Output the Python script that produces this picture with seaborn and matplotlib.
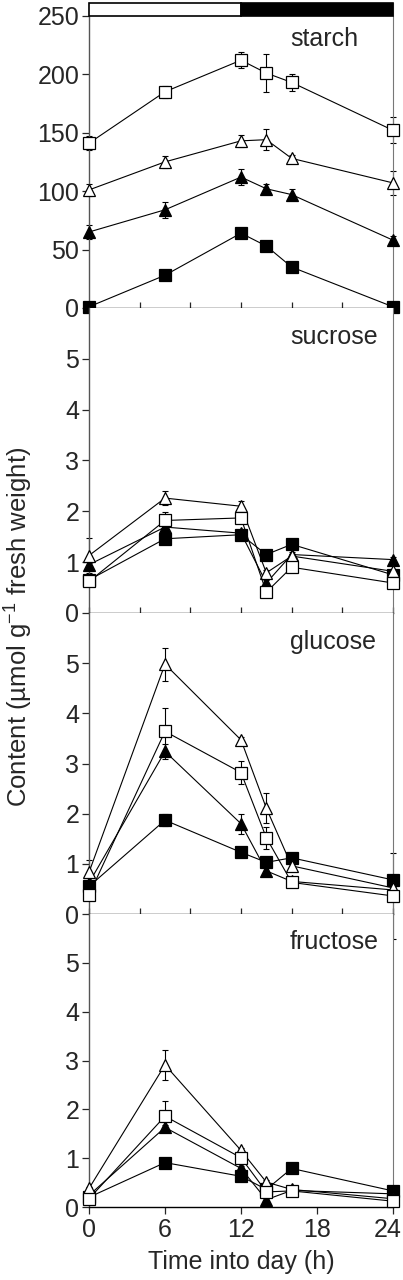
import numpy as np
import pandas as pd
import seaborn as sns
import matplotlib.pyplot as plt
import matplotlib.transforms as mtransforms

# time points (h) sampled through the day
time = [0, 6, 12, 14, 16, 24]

# starch
starch_sq_open = [141, 185, 212, 201, 193, 152]
starch_sq_open_err = [6, 5, 7, 16, 7, 11]
starch_tri_open = [101, 125, 143, 144, 128, 107]
starch_tri_open_err = [5, 5, 5, 9, 3, 10]
starch_tri_filled = [65, 84, 112, 102, 97, 58]
starch_tri_filled_err = [6, 7, 7, 4, 5, 4]
starch_sq_filled = [1, 28, 64, 53, 35, 1]
starch_sq_filled_err = [0, 0, 0, 0, 0, 0]

# sucrose
sucrose_sq_open = [0.62, 1.82, 1.87, 0.41, 0.90, 0.59]
sucrose_sq_open_err = [0.05, 0.17, 0.10, 0.05, 0.05, 0.05]
sucrose_tri_open = [1.13, 2.26, 2.10, 0.79, 1.12, 0.82]
sucrose_tri_open_err = [0.35, 0.13, 0.10, 0.05, 0.05, 0.05]
sucrose_tri_filled = [0.95, 1.69, 1.57, 0.59, 1.15, 1.05]
sucrose_tri_filled_err = [0.05, 0.05, 0.05, 0.05, 0.05, 0.05]
sucrose_sq_filled = [0.65, 1.46, 1.54, 1.15, 1.35, 0.75]
sucrose_sq_filled_err = [0.05, 0.05, 0.05, 0.05, 0.05, 0.05]

# glucose
glucose_sq_open = [0.38, 3.64, 2.82, 1.52, 0.63, 0.36]
glucose_sq_open_err = [0.05, 0.47, 0.22, 0.22, 0.05, 0.85]
glucose_tri_open = [0.83, 4.98, 3.47, 2.11, 0.96, 0.52]
glucose_tri_open_err = [0.25, 0.33, 0.05, 0.30, 0.05, 0.05]
glucose_tri_filled = [0.62, 3.24, 1.80, 0.86, 0.65, 0.48]
glucose_tri_filled_err = [0.05, 0.15, 0.20, 0.05, 0.05, 0.05]
glucose_sq_filled = [0.55, 1.87, 1.23, 1.03, 1.12, 0.68]
glucose_sq_filled_err = [0.05, 0.12, 0.05, 0.05, 0.05, 0.05]

# fructose
fructose_sq_open = [0.17, 1.86, 1.01, 0.31, 0.33, 0.12]
fructose_sq_open_err = [0.03, 0.32, 0.05, 0.05, 0.05, 0.05]
fructose_tri_open = [0.38, 2.91, 1.16, 0.51, 0.36, 0.17]
fructose_tri_open_err = [0.03, 0.30, 0.05, 0.05, 0.05, 0.03]
fructose_tri_filled = [0.24, 1.63, 0.79, 0.15, 0.34, 0.27]
fructose_tri_filled_err = [0.03, 0.05, 0.05, 0.03, 0.03, 0.03]
fructose_sq_filled = [0.20, 0.91, 0.63, 0.36, 0.79, 0.33]
fructose_sq_filled_err = [0.03, 0.05, 0.05, 0.05, 0.05, 0.03]

panel_names = ['starch', 'sucrose', 'glucose', 'fructose']
starch_ticks = [0, 50, 100, 150, 200, 250]
sugar_ticks = [0, 1, 2, 3, 4, 5]
x_ticks = [0, 6, 12, 18, 24]
x_minor_ticks = [0, 4, 8, 12, 16, 20, 24]

# light / dark bar on top of the starch panel
period_start = [0, 12]
period_length = [12, 12]
period_colors = ['white', 'black']

panels = {
    'starch': [(starch_sq_filled, starch_sq_filled_err),
               (starch_tri_filled, starch_tri_filled_err),
               (starch_tri_open, starch_tri_open_err),
               (starch_sq_open, starch_sq_open_err)],
    'sucrose': [(sucrose_sq_filled, sucrose_sq_filled_err),
                (sucrose_tri_filled, sucrose_tri_filled_err),
                (sucrose_tri_open, sucrose_tri_open_err),
                (sucrose_sq_open, sucrose_sq_open_err)],
    'glucose': [(glucose_sq_filled, glucose_sq_filled_err),
                (glucose_tri_filled, glucose_tri_filled_err),
                (glucose_tri_open, glucose_tri_open_err),
                (glucose_sq_open, glucose_sq_open_err)],
    'fructose': [(fructose_sq_filled, fructose_sq_filled_err),
                 (fructose_tri_filled, fructose_tri_filled_err),
                 (fructose_tri_open, fructose_tri_open_err),
                 (fructose_sq_open, fructose_sq_open_err)],
}
# drawing order: filled square, filled triangle, open triangle, open square
styles = [('s', 'black', 8.2), ('^', 'black', 9.3),
          ('^', 'white', 9.3), ('s', 'white', 8.2)]

sns.set_style('ticks')
plt.rcParams['font.family'] = ['Liberation Sans', 'DejaVu Sans']
plt.rcParams['mathtext.fontset'] = 'custom'
plt.rcParams['mathtext.rm'] = 'Liberation Sans'

fig, axes = plt.subplots(4, 1, figsize=(4.03, 12.8), dpi=100,
                         gridspec_kw={'height_ratios': [305, 305, 301, 293],
                                      'hspace': 0})
fig.subplots_adjust(left=0.2208, right=0.9752, top=0.9977, bottom=0.0570)

for ax, name in zip(axes, panel_names):
    for (vals, errs), (marker, face, size) in zip(panels[name], styles):
        ax.errorbar(time, vals, yerr=errs, fmt='none', ecolor='black',
                    elinewidth=0.8, capsize=2.5, capthick=0.8,
                    zorder=2, clip_on=False)
        sns.lineplot(x=time, y=vals, ax=ax, color='black', linewidth=0.8,
                     marker=marker, markersize=size, markerfacecolor=face,
                     markeredgecolor='black', markeredgewidth=0.9,
                     clip_on=False, zorder=3)

    ax.set_xlim(0, 24)
    ax.set_xlabel('')
    ax.set_ylabel('')
    ax.spines['top'].set_visible(False)
    ax.spines['left'].set_color('#555555')
    ax.spines['left'].set_linewidth(1.0)
    ax.spines['right'].set_color('#777777')
    ax.spines['right'].set_linewidth(0.8)
    ax.spines['bottom'].set_color('black')
    ax.spines['bottom'].set_linewidth(1.0)
    ax.tick_params(axis='y', direction='out', length=5, width=0.9,
                   labelsize=18, pad=2)

    if name == 'starch':
        ax.set_ylim(0, 261)
        ax.set_yticks(starch_ticks)
        ax.barh(y=255.5, width=period_length, left=period_start, height=11,
                color=period_colors, edgecolor='black', linewidth=1.2,
                clip_on=False, zorder=4)
        ax.text(0.661, 0.882, name, transform=ax.transAxes, fontsize=18,
                ha='left', va='center')
    else:
        ax.set_ylim(0, 6)
        ax.set_yticks(sugar_ticks)
        ax.text(0.661, 0.905, name, transform=ax.transAxes, fontsize=18,
                ha='left', va='center')

    if name == 'fructose':
        ax.set_xticks(x_ticks)
        ax.tick_params(axis='x', direction='out', length=5, width=0.9,
                       labelsize=18, pad=3)
        ax.set_xlabel('Time into day (h)', fontsize=18, labelpad=6)
        # nudge the last label so it stays inside the figure
        last = ax.get_xticklabels()[-1]
        last.set_transform(last.get_transform() + mtransforms.ScaledTranslation(
            -5 / 100, 0, fig.dpi_scale_trans))
    else:
        ax.set_xticks(x_minor_ticks)
        ax.tick_params(axis='x', direction='in', length=4, width=0.9,
                       labelbottom=False)

fig.text(18 / 403, 1 - 627 / 1280, r'Content (µmol g$^{-1}$ fresh weight)',
         rotation=90, ha='center', va='center', fontsize=18.5)

fig.savefig('out.png', dpi=100)
